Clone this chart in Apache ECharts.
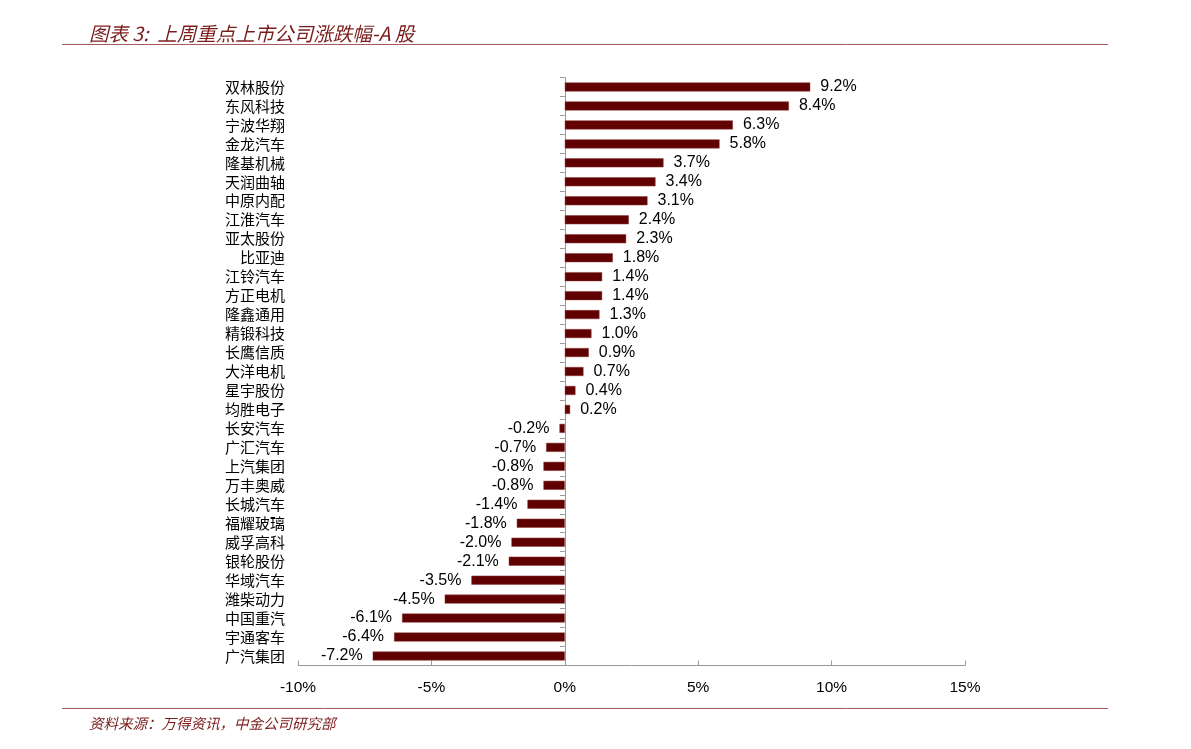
<!DOCTYPE html>
<html><head><meta charset="utf-8">
<script src="https://cdn.jsdelivr.net/npm/echarts@6/dist/echarts.min.js"></script>
<style>html,body{margin:0;padding:0;background:#fff}#c{width:1191px;height:749px}</style>
</head><body><div id="c"></div>
<script>
var categories = ["双林股份","东风科技","宁波华翔","金龙汽车","隆基机械","天润曲轴","中原内配","江淮汽车","亚太股份","比亚迪","江铃汽车","方正电机","隆鑫通用","精锻科技","长鹰信质","大洋电机","星宇股份","均胜电子","长安汽车","广汇汽车","上汽集团","万丰奥威","长城汽车","福耀玻璃","威孚高科","银轮股份","华域汽车","潍柴动力","中国重汽","宇通客车","广汽集团"];
var values = [9.2,8.4,6.3,5.8,3.7,3.4,3.1,2.4,2.3,1.8,1.4,1.4,1.3,1.0,0.9,0.7,0.4,0.2,-0.2,-0.7,-0.8,-0.8,-1.4,-1.8,-2.0,-2.1,-3.5,-4.5,-6.1,-6.4,-7.2];
var xTicks = [-10,-5,0,5,10,15];

var chart = echarts.init(document.getElementById('c'), null, {renderer:'canvas'});
var red = '#7b1c1c';
var data = values.map(function(v){
  return {value:v, label:{position: v>=0?'right':'left'}};
});
chart.setOption({
  animation:false,
  title:[
    {text:'图表 3:  上周重点上市公司涨跌幅-A 股', left:84, top:19,
     textStyle:{fontFamily:'Noto Sans CJK SC', fontStyle:'italic', fontWeight:'normal', fontSize:19.5, color:red}},
    {text:'资料来源：万得资讯，中金公司研究部', left:84, top:711,
     textStyle:{fontFamily:'Noto Sans CJK SC', fontStyle:'italic', fontWeight:'normal', fontSize:14.5, color:red}}
  ],
  graphic:[
    {type:'line', shape:{x1:62,y1:44.5,x2:1108,y2:44.5}, style:{stroke:'#a55a5a', lineWidth:1}},
    {type:'line', shape:{x1:62,y1:708.5,x2:1108,y2:708.5}, style:{stroke:'#a55a5a', lineWidth:1}}
  ],
  grid:{left:298, right:226, top:77.5, bottom:83.5, containLabel:false, outerBoundsMode:'none'},
  xAxis:{type:'value', min:xTicks[0], max:xTicks[xTicks.length-1], interval:5,
    splitLine:{show:false},
    axisLine:{show:true, lineStyle:{color:'#999'}},
    axisTick:{show:true, inside:true, length:5, lineStyle:{color:'#999'}},
    axisLabel:{margin:14, color:'#000', fontSize:15.5, fontFamily:'Liberation Sans', formatter:function(v){return v+'%';}}
  },
  yAxis:{type:'category', data:categories, inverse:true, position:'left',
     axisLine:{show:true, onZero:true, lineStyle:{color:'#999'}},
     axisTick:{show:true, length:5, interval:0, lineStyle:{color:'#999'}},
     axisLabel:{margin:13, interval:0, color:'#000', fontSize:15, fontFamily:'Noto Sans CJK SC'}},
  series:[{
    type:'bar', data:data, barWidth:9,
    itemStyle:{color:'#610000', borderColor:'#8a3a3a', borderWidth:0.5},
    label:{show:true, distance:10, color:'#000', fontSize:16, fontFamily:'Liberation Sans',
      formatter:function(p){return p.value.toFixed(1)+'%';}}
  }]
});
</script></body></html>
